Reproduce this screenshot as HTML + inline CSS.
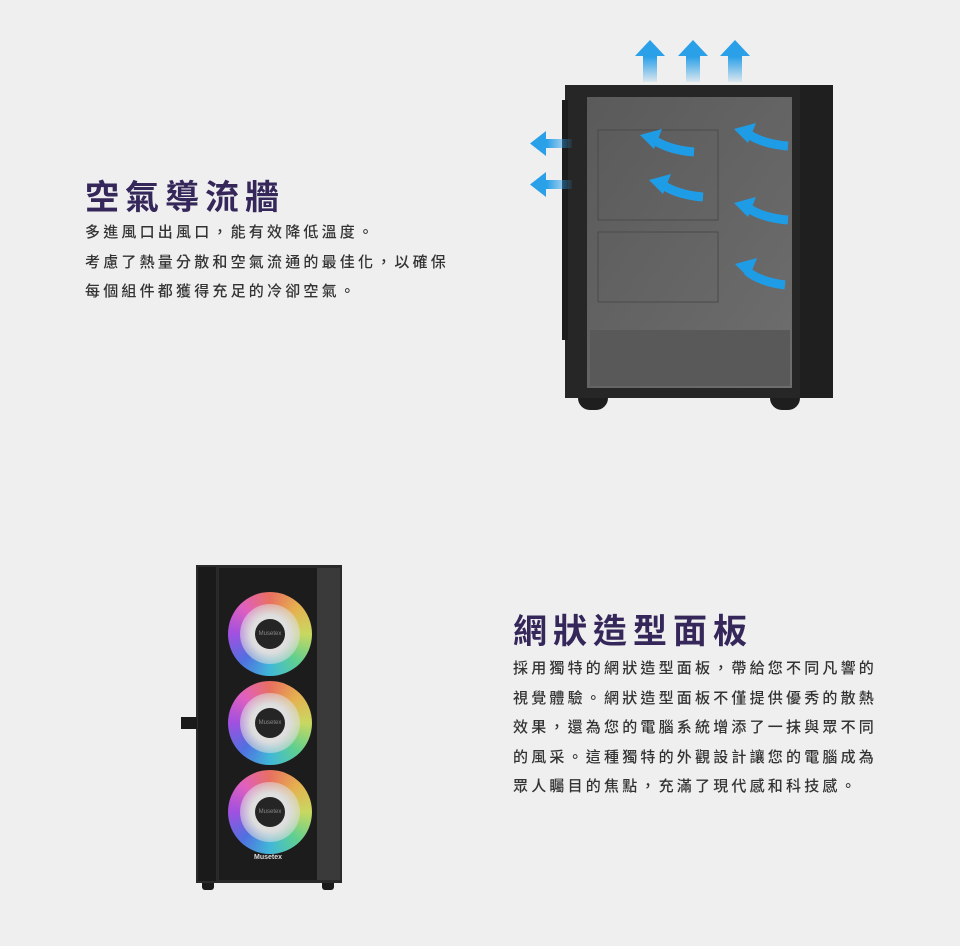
<!DOCTYPE html>
<html><head><meta charset="utf-8"><style>
body{margin:0;width:960px;height:946px;background:#efefef;position:relative;overflow:hidden;font-family:"Liberation Sans","Noto Sans CJK TC",sans-serif}
.t{position:absolute;color:#35275a;font-weight:bold;font-size:34px;letter-spacing:6px;white-space:nowrap}
.p{position:absolute;color:#333;font-size:15px;letter-spacing:3.2px;line-height:29.5px;white-space:nowrap;font-weight:500}
.a{position:absolute}
.fan{position:absolute;width:84px;height:84px;border-radius:50%;background:conic-gradient(#e87060,#e6b050,#c8d860,#60d090,#40b8d8,#5070e0,#a050e0,#e060c0,#e87060);}
.fan:after{content:"";position:absolute;left:12px;top:12px;width:60px;height:60px;border-radius:50%;background:radial-gradient(circle,#eee 0,#ddd 45%,rgba(255,255,255,0) 100%)}
.hub{position:absolute;left:27px;top:27px;width:30px;height:30px;border-radius:50%;background:#252525;z-index:2;color:#888;font-size:6px;line-height:30px;text-align:center}
</style></head><body>
<div class="t" style="left:85px;top:170px">空氣導流牆</div>
<div class="p" style="left:85px;top:218px">多進風口出風口，能有效降低溫度。<br>考慮了熱量分散和空氣流通的最佳化，以確保<br>每個組件都獲得充足的冷卻空氣。</div>
<div class="t" style="left:513px;top:604px">網狀造型面板</div>
<div class="p" style="left:513px;top:654px">採用獨特的網狀造型面板，帶給您不同凡響的<br>視覺體驗。網狀造型面板不僅提供優秀的散熱<br>效果，還為您的電腦系統增添了一抹與眾不同<br>的風采。這種獨特的外觀設計讓您的電腦成為<br>眾人矚目的焦點，充滿了現代感和科技感。</div>

<svg class="a" style="left:0;top:0" width="960" height="946">
<defs>
<linearGradient id="up" x1="0" y1="1" x2="0" y2="0"><stop offset="0" stop-color="#2aa0e8" stop-opacity="0.1"/><stop offset="0.6" stop-color="#2aa0e8"/></linearGradient>
<linearGradient id="lf" x1="1" y1="0" x2="0" y2="0"><stop offset="0" stop-color="#2aa0e8" stop-opacity="0.1"/><stop offset="0.6" stop-color="#2aa0e8"/></linearGradient>
<linearGradient id="gl" x1="0" y1="0" x2="1" y2="1"><stop offset="0" stop-color="#5a5a5a"/><stop offset="1" stop-color="#6e6e6e"/></linearGradient>
</defs>
<!-- case 1 -->
<rect x="578" y="380" width="30" height="30" rx="12" fill="#1e1e1e"/>
<rect x="770" y="380" width="30" height="30" rx="12" fill="#1e1e1e"/>
<rect x="565" y="85" width="268" height="313" fill="#262626"/>
<rect x="562" y="100" width="6" height="240" fill="#1c1c1c"/>
<rect x="587" y="97" width="205" height="291" fill="url(#gl)"/>
<rect x="590" y="330" width="200" height="56" fill="#595959"/>
<rect x="598" y="130" width="120" height="90" fill="none" stroke="#4a4a4a"/>
<rect x="598" y="232" width="120" height="70" fill="none" stroke="#4a4a4a"/>
<rect x="800" y="85" width="33" height="313" fill="#1f1f1f"/>
<g fill="url(#up)"><path d="M643 82h14v-26h8l-15-16-15 16h8z"/><path d="M686 82h14v-26h8l-15-16-15 16h8z"/><path d="M728 82h14v-26h8l-15-16-15 16h8z"/></g>
<g fill="url(#lf)"><path d="M572 139v9h-26v8l-16-12.5 16-12.5v8z"/><path d="M572 180v9h-26v8l-16-12.5 16-12.5v8z"/></g>
<g fill="none" stroke="#1e9de6" stroke-width="9" stroke-linecap="butt">
<path d="M694 152q-25-2-40-12"/><path d="M703 197q-25-2-40-12"/><path d="M788 146q-25-2-40-12"/><path d="M788 220q-25-2-40-12"/><path d="M785 285q-25-3-38-14"/></g>
<g fill="#1e9de6"><path d="M640 135l22-6-8 20z"/><path d="M649 180l22-6-8 20z"/><path d="M734 129l22-6-8 20z"/><path d="M734 203l22-6-8 20z"/><path d="M735 264l22-6-8 20z"/></g>
<!-- case 2 -->
<rect x="202" y="878" width="12" height="12" rx="3" fill="#1a1a1a"/>
<rect x="322" y="878" width="12" height="12" rx="3" fill="#1a1a1a"/>
<rect x="196" y="565" width="146" height="318" fill="#2a2a2a"/>
<rect x="198" y="567" width="18" height="314" fill="#1a1a1a"/>
<rect x="219" y="568" width="98" height="312" fill="#1c1c1c"/>
<rect x="317" y="568" width="23" height="312" fill="#3a3a3a"/>
<rect x="181" y="717" width="16" height="12" fill="#1a1a1a"/>
<text x="268" y="859" fill="#ddd" font-size="7" font-weight="bold" text-anchor="middle" font-family="Liberation Sans">Musetex</text>
</svg>
<div class="fan" style="left:228px;top:592px"><div class="hub">Musetex</div></div>
<div class="fan" style="left:228px;top:681px"><div class="hub">Musetex</div></div>
<div class="fan" style="left:228px;top:770px"><div class="hub">Musetex</div></div>
</body></html>
